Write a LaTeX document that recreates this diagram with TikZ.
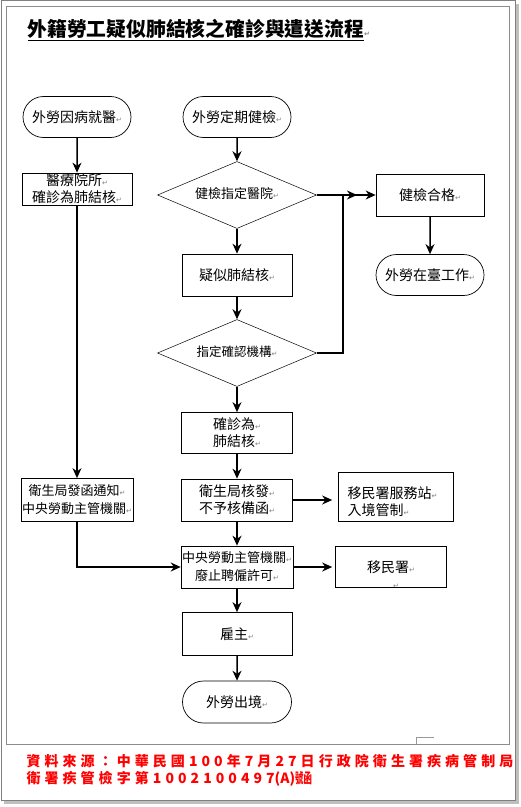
\documentclass[tikz,border=0pt]{standalone}
\usepackage{fontspec}
\usepackage{xcolor}
\setmainfont{Noto Sans CJK TC}
\newfontfamily\symfont{DejaVu Sans}
\newfontfamily\notefont[LetterSpace=29]{Noto Sans CJK TC}
\usetikzlibrary{shapes.geometric,shapes.misc,arrows.meta}
\newcommand\retmark{{\symfont\fontsize{7bp}{7bp}\selectfont\color{gray}↵}}

\begin{document}
\begin{tikzpicture}[
            x = 1bp, y = -1bp,
            basebox/.style = {draw, line width = 0.7bp, inner sep = 1bp, align = center,
                font = \fontsize{14bp}{17bp}\selectfont},
            termbox/.style = {basebox, rounded rectangle, minimum width = 110bp, minimum height = 41bp},
            procbox/.style = {basebox, rectangle, minimum width = 110bp, minimum height = 42bp},
            decbox/.style = {basebox, diamond, line width = 0.5bp, inner sep = 0pt, shape aspect = 2.4,
                text height = 8bp, text depth = 2bp,
                minimum width = 159bp, minimum height = 67bp, font = \fontsize{13bp}{15bp}\selectfont},
            smalltext/.style = {font = \fontsize{13bp}{18bp}\selectfont},
            arr/.style = {-{Stealth[length = 10bp, width = 9bp]}, line width = 1.5bp}]
            \useasboundingbox (0,0) rectangle (521,807);
            \fill[black!25] (4,4) rectangle (519,804);
            \filldraw[fill = white, draw = black!50, line width = 1bp] (1,1) rectangle (515,800);
            \draw[black!45, line width = 0.8bp] (6,6) rectangle (509,744);
            \draw[black!40, line width = 0.6bp] (416,744) -- (416,737) -- (434,737);

            \node[anchor = west, font = \fontsize{19.8bp}{22bp}\selectfont\bfseries] (title) at (24,30)
                {\underline{外籍勞工疑似肺結核之確診與遣送流程}\retmark};

            \node[termbox] (ill) at (77,117) {外勞因病就醫\retmark};
            \node[termbox] (check) at (237,117) {外勞定期健檢\retmark};
            \node[procbox, minimum height = 32bp] (clinic) at (77,189) {醫療院所\retmark\\確診為肺結核\retmark};
            \node[decbox] (hosp) at (237,195) {健檢指定醫院\retmark};
            \node[procbox, minimum width = 108bp] (pass) at (430,195) {健檢合格\retmark};
            \node[termbox] (work) at (430,275) {外勞在臺工作\retmark};
            \node[procbox] (suspect) at (237,275) {疑似肺結核\retmark};
            \node[decbox, font = \fontsize{12.5bp}{15bp}\selectfont] (inst) at (237,353) {指定確認機構\retmark};
            \node[procbox, minimum width = 111bp, minimum height = 41bp] (tb) at (237,433) {確診為\retmark\\肺結核\retmark};
            \node[procbox, minimum width = 111bp] (deny) at (237,500) {衛生局核發\retmark\\不予核備函\retmark};
            \node[procbox, smalltext, minimum width = 109bp, minimum height = 43bp] (notify) at (77,500)
                {衛生局發函通知\retmark\\中央勞動主管機關\retmark};
            \node[procbox, align = left, minimum width = 115bp, minimum height = 49bp, text width = 97bp,
                inner xsep = 9bp, text depth = 8bp] (station) at (396,497) {移民署服務站\retmark\\入境管制\retmark};
            \node[procbox, smalltext, minimum width = 111bp] (revoke) at (237,567)
                {中央勞動主管機關\retmark\\廢止聘僱許可\retmark};
            \node[procbox, minimum width = 111bp, minimum height = 41bp] (nia) at (391,567) {移民署\retmark};
            \node[procbox, minimum height = 43bp] (boss) at (237,634) {雇主\retmark};
            \node[termbox, minimum width = 111bp, minimum height = 42bp] (leave) at (237,702) {外勞出境\retmark};

            \begin{scope}
                \clip (nia.south west) rectangle (nia.north east);
                \node[inner sep = 0pt] (stray) at (396,586) {\retmark};
            \end{scope}

            \coordinate (hosptip) at (357,195);
            \coordinate (join) at (343,195);

            \draw[arr] (ill) -- (clinic);
            \draw[arr] (clinic) -- (notify);
            \draw[arr] (notify.south) |- (revoke.west);
            \draw[arr] (check) -- (hosp);
            \draw[arr] (hosp) -- (suspect);
            \draw[arr] (hosp.east) -- (hosptip);
            \draw[arr] (inst.east) -| (join) -- (pass.west);
            \draw[arr] (pass) -- (work);
            \draw[arr] (suspect) -- (inst);
            \draw[arr] (inst) -- (tb);
            \draw[arr] (tb) -- (deny);
            \draw[arr] (deny) -- (revoke);
            \draw[arr, shorten > = 6bp] (deny.east) -- (deny.east -| station.west);
            \draw[arr, shorten > = 3bp] (revoke.east) -- (nia.west);
            \draw[arr] (revoke) -- (boss);
            \draw[arr] (boss) -- (leave);

            \node[anchor = west, text = red, align = left,
                font = \notefont\bfseries\fontsize{14bp}{17bp}\selectfont] (source) at (23,770)
                {資料來源：中華民國100年7月27日行政院衛生署疾病管制局\\衛署疾管檢字第1002100497{\rmfamily\bfseries(A)\scalebox{0.6}[1]{號函}}};
        \end{tikzpicture}
\end{document}
